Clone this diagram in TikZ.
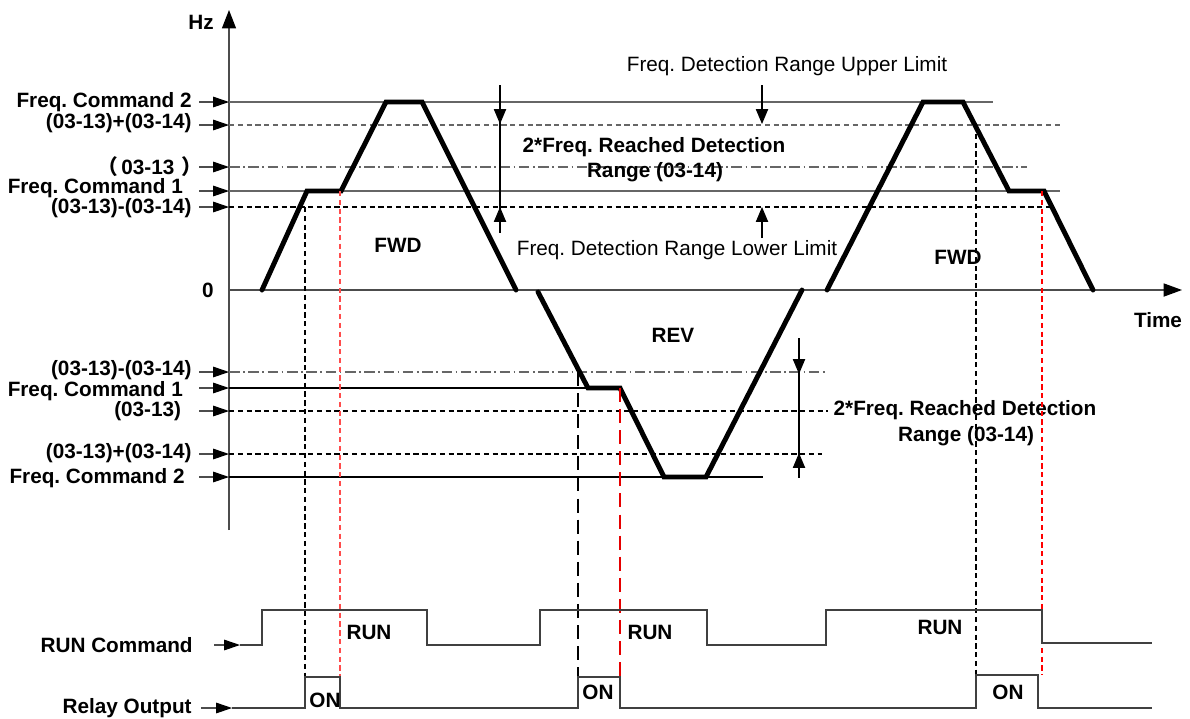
\documentclass[tikz,border=0pt]{standalone}
\usepackage{fontspec}
\setmainfont{Liberation Sans}
\newfontfamily\cjk{Noto Sans CJK SC}
\usepackage{tikz}
\usetikzlibrary{arrows.meta,positioning,calc}
\frenchspacing

\tikzset{
  lbl/.style={font=\fontsize{11.8}{13}\selectfont\bfseries, inner sep=0pt},
  note/.style={font=\fontsize{11.8}{13}\selectfont, inner sep=0pt},
  ptr/.style={-{Triangle[length=9pt,width=6pt,color=black]}, line width=0.6pt, black!70},
  dimptr/.style={-{Triangle[length=8.5pt,width=7pt]}, line width=0.6pt},
  axis/.style={line width=0.7pt, black!70},
  refline/.style={line width=0.7pt, black!60},
  shortdash/.style={dash pattern=on 3pt off 2pt},
  dashdot/.style={dash pattern=on 6pt off 2pt on 1pt off 2pt},
  traj/.style={line width=2.8pt, line cap=round, line join=miter},
  sig/.style={line width=0.8pt, black!75},
  vmark/.style={line width=0.6pt, dash pattern=on 3pt off 2pt},
  vmarkbig/.style={line width=1.1pt, dash pattern=on 8pt off 4pt}
}

\begin{document}
\begin{tikzpicture}[x=0.02cm, y=-0.02cm]
  \useasboundingbox (0,0) rectangle (1190,718);

  % Axes
  \coordinate (O) at (229,290);
  \coordinate (ytop) at (229,10);
  \coordinate (ybot) at (229,530);
  \coordinate (xend) at (1182,290);
  \draw[axis, -{Triangle[length=10.5pt,width=8pt,color=black]}] (ybot) -- (ytop);
  \draw[axis, -{Triangle[length=10.5pt,width=7.5pt,color=black]}] (O) -- (xend);
  \node[lbl, anchor=east] (hz) at (214,22) {Hz};
  \node[lbl, anchor=east] (zero) at (214,290) {0};
  \node[lbl] (time) at (1158,320) {Time};

  % Level labels with pointers to the axis
  \foreach \y/\ty/\txt/\nm in {102/102/Freq. Command 2/fc2t, 125/123/(03-13)+(03-14)/hit,
      167/167/{{\cjk （}\hspace*{2pt}03-13\hspace*{4pt}{\cjk ）}\hspace*{-6pt}}/midt,
      191/188.5/Freq. Command 1\hspace*{5pt}/fc1t,
      207/208.5/(03-13)-(03-14)/lowt, 372/370/(03-13)-(03-14)/lowb,
      388/391/Freq. Command 1\hspace*{5pt}/fc1b, 411/411/(03-13)\hspace*{6pt}/midb,
      454/453.5/(03-13)+(03-14)/hib, 477/478/Freq. Command 2\hspace*{4pt}/fc2b} {
    \node[lbl, anchor=east] (\nm) at (192,\ty) {\txt};
    \coordinate (\nm-ax) at (229,\y);
    \draw[ptr, shorten <=4pt] (\nm.east |- \nm-ax) -- (\nm-ax);
  }

  % Reference levels, forward side
  \draw[refline] (fc2t-ax) -- (993,102);
  \draw[refline, shortdash] (hit-ax) -- (1060,125);
  \draw[refline, dashdot] (midt-ax) -- (1027,167);
  \draw[refline] (fc1t-ax) -- (1060,191);
  \draw[refline, black, shortdash] (lowt-ax) -- (1050,207);

  % Reference levels, reverse side
  \draw[refline, dashdot] (lowb-ax) -- (828,372);
  \draw[line width=0.7pt] (fc1b-ax) -- (588,388);
  \draw[line width=0.6pt, shortdash] (midb-ax) -- (828,411);
  \draw[line width=0.6pt, shortdash] (hib-ax) -- (822,454);
  \draw[line width=0.7pt] (fc2b-ax) -- (763,477);

  % Speed profiles
  \draw[traj] (262,290) -- (307,191) -- (341,191) -- (386,102) -- (422,102) -- (516,290);
  \draw[traj] (538,292) -- (588,388) -- (620,388) -- (664,477) -- (706,477) -- (802,290);
  \draw[traj] (827,290) -- (923,102) -- (963,102) -- (1009,191) -- (1044,191) -- (1093,290);
  \node[lbl] (fwd1) at (398,245) {FWD};
  \node[lbl] (rev) at (673,335) {REV};
  \node[lbl] (fwd2) at (958,257) {FWD};

  % Detection window, forward
  \draw[line width=0.6pt] (500,85) -- (500,233);
  \draw[dimptr] (500,100) -- (500,124);
  \draw[dimptr] (500,230) -- (500,207);
  \node[lbl] (rng1) at (654,147) {2*Freq. Reached Detection};
  \node[lbl] (rng1b) at (655,172) {Range (03-14)};
  \node[note] (upper) at (787,66) {Freq. Detection Range Upper Limit};
  \node[note] (lower) at (677,250) {Freq. Detection Range Lower Limit};
  \coordinate (uptip) at (762,124);
  \coordinate (lotip) at (762,207);
  \draw[dimptr] (762,85) -- (uptip);
  \draw[dimptr] (762,238) -- (lotip);

  % Detection window, reverse
  \draw[line width=0.6pt] (799,338) -- (799,478);
  \draw[dimptr] (799,350) -- (799,374);
  \draw[dimptr] (799,476) -- (799,453);
  \node[lbl] (rng2) at (965,410) {2*Freq. Reached Detection};
  \node[lbl] (rng2b) at (966,436) {Range (03-14)};

  % Timing markers
  \draw[vmark] (305,207) -- (305,677);
  \draw[vmark, red!70] (340,191) -- (340,677);
  \draw[vmarkbig] (578,372) -- (578,677);
  \draw[vmarkbig, red!90!black] (620,388) -- (620,677);
  \draw[vmark] (976,125) -- (976,675);
  \draw[vmark, red] (1042,191) -- (1042,675);

  % RUN command signal
  \node[lbl, anchor=east] (runlbl) at (193,645) {RUN Command};
  \coordinate (runin) at (240,645);
  \draw[ptr, shorten <=12pt] (runlbl.east) -- (runin);
  \draw[sig] (runin) -- (262,645) -- (262,610) -- (427,610) -- (427,645) -- (540,645)
    -- (540,610) -- (707,610) -- (707,645) -- (826,645) -- (826,610) -- (1042,610)
    -- (1042,643) -- (1152,643);
  \node[lbl] (run1) at (369,632) {RUN};
  \node[lbl] (run2) at (650,632) {RUN};
  \node[lbl] (run3) at (940,627) {RUN};

  % Relay output signal
  \node[lbl, anchor=east] (rlylbl) at (192,708) {Relay Output};
  \coordinate (rlyin) at (232,708);
  \draw[ptr, shorten <=5pt] (rlylbl.east) -- (rlyin);
  \draw[sig] (rlyin) -- (305,708) -- (305,677) -- (340,677) -- (340,708) -- (578,708)
    -- (578,677) -- (620,677) -- (620,708) -- (976,708) -- (976,675) -- (1038,675)
    -- (1038,708) -- (1152,708);
  \node[lbl] (on1) at (325,700) {ON};
  \node[lbl] (on2) at (598,692) {ON};
  \node[lbl] (on3) at (1008,692) {ON};
\end{tikzpicture}
\end{document}
